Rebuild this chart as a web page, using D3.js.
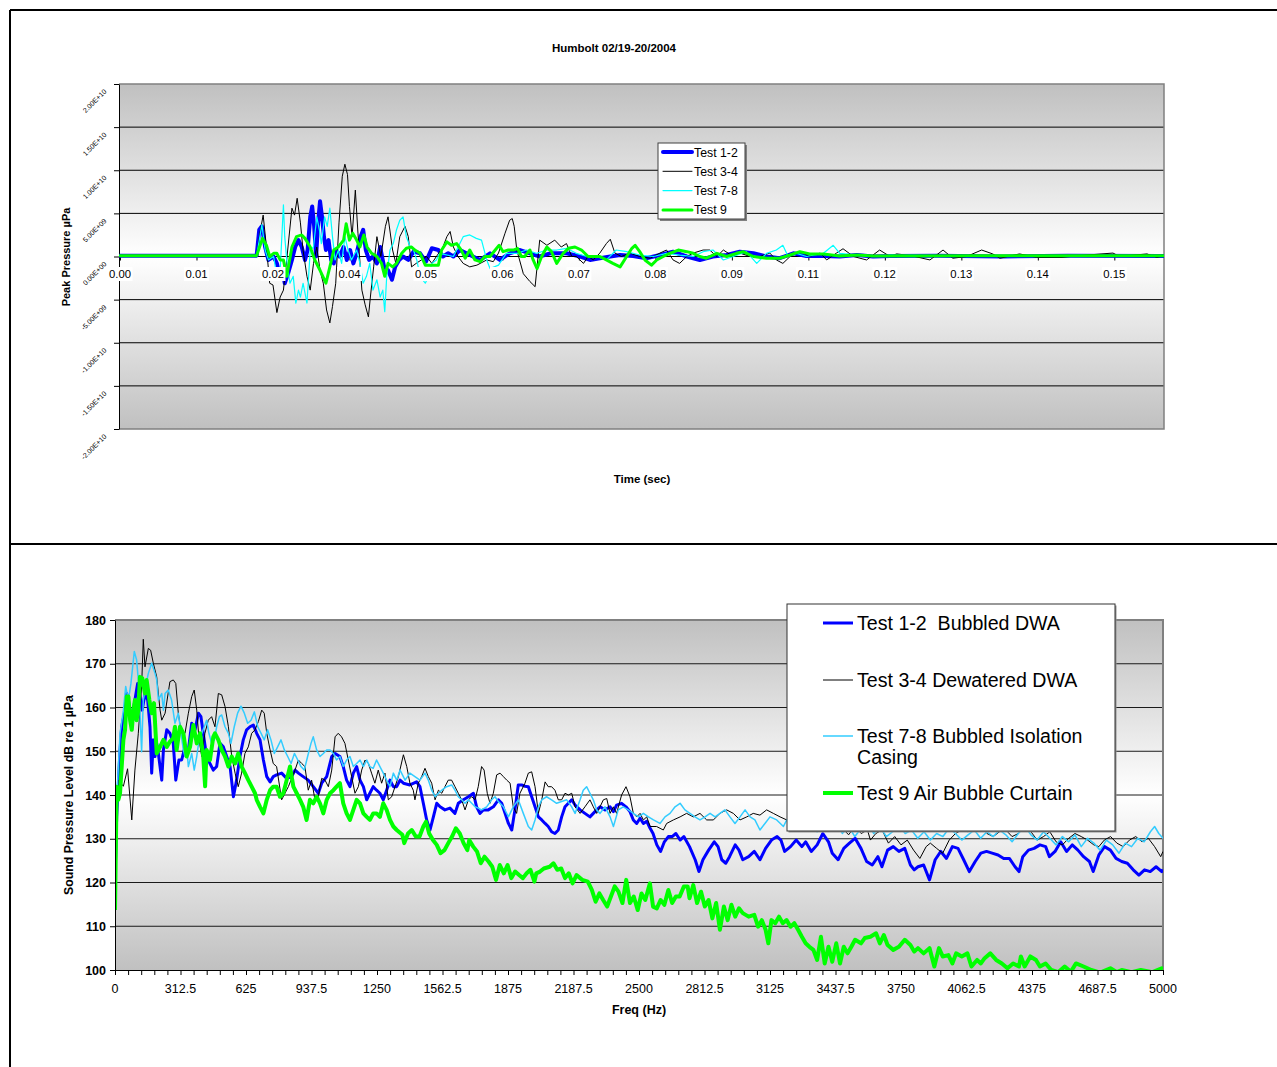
<!DOCTYPE html>
<html><head><meta charset="utf-8">
<script src="https://cdn.jsdelivr.net/npm/d3@7"></script>
<style>
html,body{margin:0;padding:0;background:#fff;}
svg{display:block;font-family:"Liberation Sans",Arial,sans-serif;}
</style></head><body>
<svg id="c" width="1277" height="1067"></svg>
<script>
// ---------------- TOP CHART DATA (time in ms, pressure in 1e9 µPa) ----------------
const topTitle = "Humbolt 02/19-20/2004";
const topSeriesNames = ["Test 1-2", "Test 3-4", "Test 7-8", "Test 9"];
const timeTickLabels = ["0.00","0.01","0.02","0.04","0.05","0.06","0.07","0.08","0.09","0.11","0.12","0.13","0.14","0.15"];
const timeTickStepMs = 11.7;
const timeEndMs = 159.7;
const pressureTicks = [-20,-15,-10,-5,0,5,10,15,20];
const pressureTickLabels = ["-2.00E+10","-1.50E+10","-1.00E+10","-5.00E+09","0.00E+00","5.00E+09","1.00E+10","1.50E+10","2.00E+10"];

const t12 = [[0,0.1],[20.9,0.1],[21.3,3.1],[21.7,3.5],[22.2,1.1],[22.7,-0.4],[23.5,0],[24.0,-0.8],[24.5,-2.3],[24.9,-1.6],[25.2,-3.1],[25.7,-2.0],[26.3,-0.4],[26.8,1.1],[27.3,1.9],[27.8,1.1],[28.3,-0.4],[28.7,0.75],[29.1,4.6],[29.4,5.8],[29.7,3.5],[30.0,0],[30.3,3.9],[30.6,6.4],[30.9,4.6],[31.2,2.3],[31.5,0.75],[31.9,1.9],[32.3,-0.4],[32.7,-0.8],[33.1,0.75],[33.6,0],[34.2,1.1],[34.7,-0.4],[35.2,0.75],[35.7,-0.8],[36.2,0.37],[36.8,2.3],[37.2,3.1],[37.6,0.75],[38.1,-0.4],[38.7,0],[39.3,-0.8],[39.8,1.1],[40.4,-1.2],[41.0,-1.6],[41.6,-2.7],[42.1,-1.2],[42.7,-0.4],[43.3,0],[44.1,-0.4],[44.9,0.56],[45.9,0.37],[46.8,-0.6],[47.7,0.95],[48.7,0.75],[49.4,0],[50.2,0.37],[51.0,0],[52.0,0.75],[53.0,0.37],[54.0,0],[55.1,-0.4],[56.6,0.37],[58.1,-0.4],[59.6,0.37],[61.2,0.75],[62.7,0.37],[64.2,0],[65.8,0.37],[68.3,0.37],[70.4,0],[71.9,-0.4],[73.4,-0.2],[75.0,0],[76.5,0.17],[78.5,0.06],[80.5,-0.2],[82.6,0.17],[84.6,0.56],[86.7,0],[88.7,-0.4],[90.7,0],[92.8,0.17],[94.8,0.56],[96.9,0.37],[98.9,0],[100.9,-0.2],[103.0,0.37],[105.0,0.06],[107.6,0.06],[110.1,0],[112.7,0.17],[115.2,0],[117.8,0.06],[125,0.1],[135,0],[145,0.1],[159.7,0.05]];

const t34 = [[0,0.1],[20.9,0.1],[21.4,2.7],[21.9,4.8],[22.4,1.1],[22.9,-3.1],[23.4,-3.3],[24.0,-6.5],[24.5,-4.7],[25.0,-3.9],[25.5,-0.4],[26.3,5.6],[26.7,4.8],[27.1,6.75],[27.6,3.9],[28.0,0.75],[28.6,-2.3],[29.1,-3.9],[29.6,-0.8],[30.1,1.1],[30.6,-1.6],[31.1,-3.1],[31.6,-6.2],[32.1,-7.7],[32.5,-5.8],[33.0,-3.1],[33.5,3.9],[34.0,9.3],[34.4,10.7],[34.8,9.5],[35.1,5.8],[35.5,2.3],[36.0,7.7],[36.4,2.7],[37.0,-3.9],[37.5,-5.6],[38.0,-7.0],[38.3,-4.7],[38.8,-1.2],[39.3,2.3],[39.9,0],[40.6,3.5],[41.0,4.6],[41.7,0.75],[42.2,-0.8],[42.8,2.3],[43.6,3.5],[44.1,2.3],[44.6,-1.2],[45.3,-0.8],[46.1,-0.4],[46.9,0],[47.7,-0.8],[48.4,0],[49.4,1.1],[50.0,2.3],[50.5,2.9],[51.0,1.1],[51.7,0],[52.5,-0.8],[53.5,-1.2],[54.6,-1.0],[56.1,-0.4],[57.1,-0.6],[57.9,0.4],[58.9,2.7],[59.6,4.2],[60.0,4.4],[60.3,3.5],[60.7,0.75],[61.7,-2.0],[62.7,-2.9],[63.5,-3.5],[64.2,1.9],[65.3,1.3],[66.5,1.9],[67.5,1.1],[68.3,1.5],[69.1,0],[69.8,0],[70.9,-0.8],[71.6,0],[72.4,-0.4],[73.4,0.4],[74.4,1.5],[75.0,2.0],[75.7,0.4],[76.7,0],[78.0,0.4],[79.5,0],[81.1,-0.2],[82.6,0.4],[83.6,0.75],[84.6,-0.4],[85.6,-0.8],[86.7,0],[87.7,0.4],[89.2,0.75],[90.2,0.75],[91.3,0],[92.3,0.75],[93.8,0],[94.8,0.4],[96.4,0],[97.9,0],[99.4,0.4],[100.4,-0.4],[101.4,-0.8],[102.5,0],[104.0,0.6],[105.5,0],[107.1,0.4],[108.1,-0.4],[109.6,0.4],[110.6,0.9],[112.2,0],[114.2,-0.4],[116.2,0.75],[117.8,0],[118.8,0.3],[121.0,0.1],[123.9,-0.4],[125.9,0.75],[127.4,-0.2],[129.5,0],[131.8,0.75],[133.5,0.3],[134.6,-0.2],[137.6,0.3],[140.2,-0.1],[144.1,-0.1],[146.8,0.1],[151.9,0.4],[152.9,0],[157.1,0.3],[158.6,-0.1],[159.7,0.1]];

const t78 = [[0,0.1],[20.9,0.1],[21.7,3.7],[22.2,0.75],[22.7,-0.4],[23.5,0],[24.0,-2.3],[24.5,-1.6],[25.0,6.0],[25.2,2.3],[25.5,-0.4],[26.0,-3.1],[26.5,-2.3],[26.9,-5.4],[27.3,-3.9],[27.6,-4.7],[28.0,-3.1],[28.6,-5.4],[29.1,0.75],[29.6,1.1],[30.1,4.6],[30.5,3.1],[30.8,1.5],[31.3,4.6],[31.7,3.5],[32.1,5.6],[32.5,2.3],[32.9,-0.4],[33.4,0.75],[33.9,-0.8],[34.4,2.3],[34.9,0.75],[35.4,-0.4],[36.2,0.75],[36.7,-0.8],[37.2,-3.1],[37.7,-2.3],[38.2,-0.8],[38.7,-3.9],[39.3,-2.7],[39.8,-4.7],[40.2,-3.9],[40.5,-6.4],[40.8,-2.3],[41.3,0.75],[41.8,1.5],[42.3,3.1],[42.8,4.2],[43.3,4.6],[43.8,2.3],[44.4,1.1],[44.9,0.75],[45.4,-0.4],[45.9,-2.3],[46.7,-3.1],[47.2,-2.3],[47.7,-0.8],[48.4,-0.4],[48.9,0.37],[51.0,0],[52.5,2.3],[53.5,2.5],[54.5,2.1],[55.3,1.9],[56.1,-0.4],[56.6,-1.4],[57.9,-1.0],[59.1,0.37],[60.7,0.37],[62.2,0.75],[63.7,0.37],[65.3,0.75],[66.8,0.75],[68.3,0.95],[69.8,0.37],[71.4,0],[72.9,0],[74.4,-0.4],[75.9,0.75],[77.5,0.56],[79.5,0.17],[81.6,0],[83.6,0.37],[85.6,0.17],[87.7,0],[89.2,0.56],[90.7,0.75],[92.3,-0.4],[93.8,0],[95.8,0.56],[97.4,-0.8],[98.9,0.37],[100.4,0.75],[101.4,1.3],[102.2,0],[103.5,0.37],[105.0,0],[107.6,0.37],[109.1,1.3],[110.1,0.37],[112.7,0.17],[115.2,0],[117.8,0.17],[125,0.1],[140,0.1],[159.7,0.1]];

const t9 = [[0,0.1],[20.9,0.1],[21.8,2.1],[22.4,1.3],[22.9,0],[23.5,0.37],[24.0,0.37],[24.5,-0.4],[25.0,-0.4],[25.5,-2.3],[26.3,1.1],[27.0,2.3],[27.8,2.5],[28.3,2.1],[29.1,1.1],[29.8,-0.4],[30.6,-1.6],[31.5,-3.1],[32.1,-1.2],[32.7,0.75],[33.4,1.1],[34.2,1.9],[34.6,3.8],[35.1,1.9],[35.6,2.7],[36.2,1.9],[36.7,1.1],[37.3,2.5],[37.8,1.1],[38.5,0.37],[39.3,0],[40.0,-0.8],[40.5,-2.3],[41.0,-0.8],[41.7,-1.2],[42.3,-0.8],[43.1,0.37],[43.8,0.95],[44.6,1.1],[45.1,0.75],[45.9,0.37],[46.7,-1.0],[47.4,-1.0],[48.7,-1.0],[49.2,0.75],[50.0,1.7],[50.7,1.3],[51.5,1.5],[52.2,0.75],[52.8,-0.2],[53.5,0.75],[54.3,-0.4],[55.1,-0.6],[55.8,0],[56.6,0],[57.4,0.75],[58.0,1.3],[58.6,0.56],[59.4,0.75],[60.2,0.75],[60.8,0.95],[61.4,0],[61.9,0],[62.7,0.75],[63.2,-0.4],[63.8,-1.4],[64.5,0],[65.3,1.1],[66.0,0.56],[66.8,-0.8],[67.8,0.37],[68.6,0.95],[69.6,1.1],[70.6,0.75],[71.6,0],[73.4,0],[74.4,-0.4],[75.4,-0.8],[76.5,-1.2],[77.5,0],[78.3,0.95],[78.8,1.3],[79.5,0.56],[80.3,-0.4],[81.3,-1.0],[82.1,-0.4],[83.1,0],[84.1,0.37],[85.4,0.75],[86.7,0.56],[87.7,0.37],[88.7,0],[89.7,-0.2],[91.3,0.37],[92.8,0],[94.3,0.37],[95.3,0.56],[96.9,0],[98.9,-0.2],[100.9,-0.2],[102.5,0.17],[104.0,0.56],[105.5,0.3],[107.6,0.3],[110.1,0.06],[112.7,0.17],[115.2,0.06],[130,0.1],[145,0.1],[159.7,0.1]];

// ---------------- BOTTOM CHART DATA (Hz, dB re 1 µPa) ----------------
const bottomSeriesNames = [["Test 1-2  Bubbled DWA"],["Test 3-4 Dewatered DWA"],["Test 7-8 Bubbled Isolation","Casing"],["Test 9 Air Bubble Curtain"]];
const freqTickLabels = ["0","312.5","625","937.5","1250","1562.5","1875","2187.5","2500","2812.5","3125","3437.5","3750","4062.5","4375","4687.5","5000"];
const freqMinorStep = 62.5;
const levelTicks = [100,110,120,130,140,150,160,170,180];

const f12 = [[0,121],[8,135],[24,150.3],[32,155.6],[48,159.4],[56,163.2],[64,161.7],[72,159.4],[83,157.9],[95,161.7],[108,165.5],[119,162.5],[130,159.4],[143,163.2],[156,161.7],[167,155.6],[175,145.0],[183,152.6],[191,148.8],[199,151.8],[207,149.5],[223,143.4],[231,150.3],[247,154.9],[262,154.1],[278,151.8],[290,143.4],[305,148.0],[318,148.0],[334,151.0],[350,150.3],[366,156.4],[382,154.9],[398,158.7],[410,157.9],[421,154.1],[437,148.8],[453,147.2],[469,145.7],[485,146.5],[501,151.8],[517,151.0],[533,148.8],[549,146.5],[565,139.6],[580,143.4],[596,148.8],[612,152.6],[628,154.9],[644,155.6],[660,156.0],[676,154.1],[692,152.6],[708,148.0],[724,144.2],[740,143.0],[755,144.2],[771,144.6],[795,145.0],[819,143.8],[843,144.2],[859,145.7],[875,145.0],[898,144.2],[922,143.4],[946,141.9],[970,140.4],[986,142.7],[1010,144.2],[1034,148.8],[1050,149.5],[1073,148.8],[1089,146.5],[1105,143.4],[1121,141.9],[1137,145.0],[1153,146.5],[1169,143.4],[1185,141.9],[1201,138.9],[1216,140.4],[1232,141.9],[1248,141.1],[1264,140.4],[1280,138.9],[1296,141.1],[1312,143.4],[1328,141.9],[1344,141.9],[1360,143.4],[1376,142.7],[1407,142.3],[1439,143.0],[1455,141.9],[1471,138.1],[1487,134.3],[1503,132.0],[1519,135.0],[1535,138.1],[1551,137.3],[1574,136.6],[1598,137.0],[1622,135.8],[1638,138.1],[1662,138.9],[1686,139.6],[1710,140.4],[1725,137.3],[1741,135.8],[1757,136.6],[1781,136.6],[1805,137.3],[1829,138.9],[1845,138.1],[1861,135.8],[1877,133.5],[1893,132.0],[1908,136.6],[1924,142.3],[1940,142.3],[1956,142.0],[1972,141.9],[1988,139.6],[2004,137.3],[2020,135.0],[2036,134.3],[2052,133.5],[2067,132.8],[2083,131.6],[2099,131.2],[2115,132.0],[2131,135.0],[2147,137.3],[2163,138.1],[2179,138.9],[2195,137.7],[2219,136.6],[2242,135.8],[2266,135.0],[2290,136.2],[2314,137.3],[2338,136.6],[2362,137.3],[2378,136.2],[2393,137.7],[2417,138.1],[2438,137.3],[2457,136.2],[2473,134.3],[2489,133.5],[2505,134.7],[2521,133.5],[2537,134.0],[2553,132.4],[2567,131.2],[2585,128.6],[2603,127.1],[2621,129.3],[2640,130.5],[2658,130.5],[2676,131.2],[2696,129.7],[2714,130.5],[2741,128.2],[2768,125.2],[2786,122.5],[2805,125.2],[2832,127.4],[2859,129.3],[2877,128.2],[2895,125.2],[2914,124.4],[2932,125.9],[2959,128.6],[2977,127.4],[2995,125.2],[3023,125.9],[3050,127.1],[3077,125.2],[3104,127.8],[3132,129.7],[3159,130.5],[3177,129.7],[3195,127.1],[3223,128.2],[3250,129.7],[3277,128.2],[3295,129.3],[3322,127.1],[3350,128.6],[3377,131.2],[3404,129.3],[3422,126.7],[3450,125.2],[3477,127.8],[3504,129.0],[3531,130.1],[3559,127.8],[3586,124.8],[3613,124.0],[3640,125.9],[3659,123.6],[3686,127.4],[3713,128.2],[3740,127.1],[3768,127.8],[3795,124.0],[3813,122.9],[3831,123.6],[3858,124.0],[3886,120.6],[3913,125.2],[3940,127.1],[3967,125.5],[3995,128.2],[4022,127.8],[4049,125.2],[4076,122.5],[4104,124.8],[4131,126.7],[4158,127.1],[4185,126.7],[4213,126.3],[4240,125.5],[4267,125.5],[4294,123.6],[4313,122.5],[4331,125.9],[4358,127.4],[4385,127.8],[4413,128.6],[4440,128.2],[4458,125.9],[4485,127.1],[4512,129.3],[4540,127.1],[4567,128.6],[4594,127.4],[4621,125.9],[4649,124.8],[4667,122.5],[4694,126.3],[4721,128.2],[4749,127.4],[4776,125.5],[4803,124.8],[4830,124.4],[4858,122.9],[4885,121.7],[4912,122.9],[4939,122.5],[4967,123.6],[4994,122.5],[5000,123.0]];

const f34 = [[0,133],[16,143.4],[40,142],[60,146],[80,134.3],[95,145.7],[111,154],[127,164.8],[135,175.6],[143,169.3],[159,173.5],[170,173.1],[183,170.1],[199,167],[215,159.4],[223,157.1],[239,158.7],[262,165.9],[278,166.3],[290,165.5],[302,158.7],[315,154.5],[334,154.1],[350,158.7],[366,162.5],[378,164],[390,159.4],[401,152.6],[414,148.8],[429,154.1],[445,157.1],[461,157.9],[477,155.6],[493,163.2],[509,162.9],[525,160.2],[541,155.6],[557,148.8],[573,145],[588,141.9],[604,145],[620,149.5],[636,151],[652,154.1],[668,154.9],[684,156.8],[700,159.4],[712,158.7],[724,154.1],[740,150.3],[755,147.2],[771,146.5],[795,138.9],[827,141.9],[859,145.7],[875,148],[891,147.2],[906,146.5],[922,141.1],[938,143.4],[954,138.9],[970,139.6],[986,143.8],[1002,143.4],[1018,141.9],[1034,145.7],[1050,153.3],[1065,154.1],[1081,153.3],[1097,151.8],[1113,148],[1129,144.2],[1145,140.4],[1161,141.9],[1177,145.7],[1193,148],[1209,147.2],[1224,145],[1240,142.7],[1256,145.7],[1272,142.7],[1288,145],[1304,138.9],[1320,139.6],[1336,141.9],[1352,144.2],[1376,149.2],[1392,146.5],[1407,142.7],[1423,141.1],[1431,138.9],[1447,142.7],[1463,144.2],[1479,146.1],[1495,144.2],[1511,142.7],[1527,138.9],[1543,141.1],[1559,140.4],[1574,141.9],[1590,143.4],[1606,143.4],[1622,141.9],[1638,140.4],[1654,138.9],[1670,136.6],[1686,138.9],[1702,139.6],[1718,138.9],[1733,141.9],[1749,146.5],[1761,145.7],[1776,140.4],[1789,138.1],[1805,140.4],[1821,144.6],[1837,145.0],[1853,144.2],[1869,143.4],[1885,142.7],[1900,137.3],[1916,135.8],[1932,140.4],[1956,142.7],[1972,145.0],[1988,145.3],[2004,141.9],[2020,135.8],[2036,138.9],[2052,143.0],[2067,141.9],[2083,141.9],[2099,141.1],[2115,138.9],[2131,138.9],[2147,140.4],[2163,140.0],[2179,140.4],[2195,137.3],[2219,135.8],[2242,137.3],[2266,138.9],[2282,137.3],[2298,135.8],[2314,137.3],[2330,138.9],[2346,139.2],[2362,135.8],[2378,137.3],[2393,135.8],[2417,140.0],[2438,141.9],[2457,139.6],[2473,135.8],[2489,135.0],[2505,135.8],[2521,134.3],[2537,135.0],[2553,132.8],[2584,132.8],[2616,132.0],[2632,133.5],[2664,134.3],[2696,135.0],[2727,135.8],[2759,135.0],[2791,135.8],[2823,134.3],[2855,134.3],[2886,135.8],[2918,136.6],[2950,135.8],[2982,134.3],[3014,135.0],[3045,135.8],[3077,135.4],[3109,136.6],[3141,135.8],[3173,135.0],[3205,134.3],[3230,133.5],[3260,134.3],[3290,132.8],[3320,134.0],[3350,132.0],[3380,133.1],[3410,131.6],[3440,133.5],[3470,132.4],[3500,130.9],[3530,132.8],[3560,131.2],[3590,132.0],[3604,129.7],[3630,131.2],[3660,132.0],[3690,129.0],[3720,130.5],[3750,128.6],[3780,129.7],[3810,127.4],[3840,125.5],[3870,128.2],[3890,129.0],[3920,127.8],[3949,126.7],[3980,129.7],[4010,131.2],[4040,132.0],[4070,131.6],[4100,132.4],[4130,133.1],[4160,131.2],[4190,130.5],[4220,131.6],[4250,132.0],[4280,130.5],[4310,131.2],[4340,132.8],[4370,131.6],[4400,129.7],[4430,130.5],[4460,131.6],[4490,129.3],[4520,128.6],[4550,130.1],[4580,131.2],[4610,130.5],[4640,129.7],[4670,128.6],[4694,128.2],[4720,129.7],[4750,130.5],[4780,129.0],[4810,128.2],[4840,129.7],[4870,130.5],[4900,129.3],[4930,130.1],[4960,128.2],[4989,125.9],[5000,127.1]];

const f78 = [[0,124],[8,138.9],[24,154.1],[40,159.4],[51,164.8],[64,161.7],[76,165.5],[92,172.8],[103,170.9],[114,164.8],[127,149.9],[135,161.7],[146,164.8],[159,167.8],[175,170.1],[191,167.8],[199,166.3],[207,161.7],[215,162.5],[223,163.2],[231,159.4],[239,163.2],[254,164.0],[270,161.7],[286,156.4],[302,158.7],[315,154.1],[326,150.3],[334,148.8],[342,151.0],[350,146.5],[366,149.5],[378,145.7],[390,148.8],[401,152.6],[414,154.1],[426,155.6],[437,157.1],[448,154.1],[461,151.8],[474,152.6],[485,155.6],[498,157.9],[509,158.3],[525,155.6],[541,154.1],[553,151.8],[569,155.6],[585,158.7],[601,160.3],[617,158.7],[633,156.4],[649,157.1],[665,159.0],[681,155.6],[697,154.1],[712,152.6],[728,154.9],[744,152.6],[760,149.5],[776,151.0],[792,152.6],[808,150.3],[824,148.8],[840,147.2],[856,149.5],[872,148.0],[887,146.5],[903,145.7],[919,148.8],[935,151.8],[946,153.3],[962,150.3],[978,148.8],[994,149.5],[1010,150.3],[1026,150.3],[1042,149.5],[1057,148.0],[1073,148.8],[1089,146.5],[1105,148.0],[1121,148.8],[1137,146.5],[1153,147.2],[1169,148.0],[1185,146.5],[1201,148.0],[1216,146.5],[1232,146.1],[1248,148.0],[1264,146.5],[1280,145.0],[1296,143.4],[1312,141.9],[1328,145.0],[1344,143.4],[1360,145.7],[1384,143.4],[1407,145.0],[1431,144.2],[1455,143.4],[1479,145.0],[1495,143.4],[1511,141.1],[1527,139.6],[1543,140.4],[1559,141.1],[1582,141.9],[1606,142.3],[1622,141.1],[1638,139.6],[1654,138.9],[1670,138.1],[1686,138.9],[1702,138.1],[1718,137.3],[1733,137.0],[1749,136.6],[1773,137.3],[1797,138.9],[1813,139.6],[1829,138.5],[1853,137.3],[1877,135.0],[1900,137.3],[1924,138.9],[1948,135.8],[1972,132.8],[1988,132.0],[2004,134.3],[2020,137.3],[2036,138.9],[2059,139.6],[2083,138.9],[2107,138.1],[2131,138.5],[2155,138.9],[2179,137.3],[2195,135.8],[2219,138.9],[2234,141.1],[2250,141.9],[2266,140.4],[2282,138.9],[2298,136.6],[2314,135.8],[2338,137.3],[2362,135.0],[2378,132.8],[2401,136.6],[2425,137.3],[2449,136.6],[2473,135.8],[2497,135.0],[2521,135.8],[2545,135.0],[2569,134.3],[2600,133.5],[2624,135.0],[2648,135.8],[2672,137.3],[2696,138.1],[2719,136.6],[2743,135.8],[2767,135.0],[2791,134.3],[2815,135.0],[2839,135.8],[2863,135.0],[2886,135.8],[2910,136.6],[2934,135.0],[2958,133.5],[2982,135.0],[3006,136.6],[3030,135.0],[3053,134.3],[3077,132.0],[3101,133.5],[3125,135.0],[3157,134.3],[3189,132.8],[3205,134.3],[3230,133.1],[3260,134.6],[3290,132.5],[3320,133.5],[3350,131.6],[3380,133.1],[3410,132.0],[3440,134.0],[3470,131.2],[3500,132.8],[3530,130.5],[3560,132.4],[3590,133.5],[3620,131.2],[3650,132.8],[3680,130.5],[3710,131.6],[3740,133.1],[3770,131.2],[3800,132.0],[3830,130.1],[3860,131.6],[3890,129.7],[3920,131.2],[3950,130.5],[3980,132.4],[4010,131.2],[4040,129.7],[4070,130.9],[4100,132.0],[4130,130.1],[4160,131.6],[4190,130.5],[4220,132.0],[4250,130.9],[4280,129.3],[4310,131.2],[4340,132.8],[4370,130.9],[4400,129.7],[4430,131.6],[4460,130.1],[4490,128.6],[4520,130.5],[4550,129.3],[4580,130.9],[4610,128.2],[4640,130.1],[4670,129.0],[4700,127.4],[4730,129.7],[4760,128.6],[4790,126.7],[4820,129.0],[4850,128.2],[4880,130.1],[4910,129.3],[4940,131.6],[4960,132.8],[4980,131.2],[5000,130.1]];

const f9 = [[0,113.7],[8,141.9],[16,138.9],[24,140.4],[32,146.5],[40,152.6],[48,154.9],[56,162.5],[64,162.5],[72,157.1],[80,154.9],[88,159.4],[95,161.7],[103,157.1],[111,159.4],[119,167.0],[130,166.7],[143,163.2],[151,166.3],[164,161.7],[175,158.7],[186,161.0],[199,149.5],[215,151.0],[231,152.6],[247,151.0],[262,152.2],[278,153.0],[286,155.6],[294,150.3],[310,155.6],[326,154.1],[342,148.8],[358,151.0],[374,156.0],[390,151.8],[406,154.1],[421,148.8],[430,142.0],[437,150.3],[453,148.0],[469,153.3],[477,154.1],[493,152.6],[509,150.3],[525,148.8],[541,146.5],[557,148.8],[573,147.2],[588,149.5],[604,146.5],[620,145.0],[636,143.4],[652,141.9],[668,140.4],[676,138.9],[692,137.3],[708,135.8],[724,138.9],[740,141.1],[755,141.9],[771,141.9],[787,139.6],[803,140.4],[819,143.4],[835,146.5],[851,141.9],[867,140.4],[883,138.9],[898,137.3],[914,134.3],[930,138.9],[946,138.1],[962,139.6],[978,138.1],[994,135.8],[1010,138.9],[1026,140.4],[1042,141.1],[1057,141.9],[1073,142.7],[1089,138.1],[1105,135.8],[1121,134.3],[1137,136.6],[1153,138.9],[1169,138.1],[1185,135.8],[1201,135.0],[1216,134.3],[1232,135.8],[1248,135.8],[1264,135.0],[1280,138.1],[1296,136.6],[1312,134.3],[1328,132.8],[1344,132.0],[1371,130.9],[1380,129.0],[1398,131.2],[1416,132.0],[1435,130.5],[1453,130.5],[1471,132.8],[1484,133.9],[1499,131.2],[1517,129.7],[1535,128.6],[1553,126.7],[1572,127.4],[1590,129.0],[1608,130.5],[1626,132.4],[1645,131.2],[1663,129.0],[1681,127.4],[1690,129.7],[1709,128.2],[1727,127.1],[1745,124.4],[1763,125.9],[1782,124.8],[1800,123.6],[1818,120.6],[1836,124.0],[1855,122.1],[1873,124.0],[1891,121.0],[1909,122.5],[1928,121.7],[1946,121.0],[1964,122.1],[1982,122.9],[2001,120.2],[2010,122.1],[2028,122.5],[2046,123.2],[2074,123.6],[2092,124.4],[2110,122.9],[2129,123.2],[2147,121.0],[2165,122.1],[2183,119.8],[2202,121.7],[2229,120.6],[2256,120.2],[2275,118.3],[2293,115.6],[2311,117.5],[2329,116.0],[2348,114.5],[2366,116.8],[2384,119.1],[2402,117.9],[2421,115.3],[2439,120.6],[2457,115.3],[2475,116.8],[2494,113.7],[2512,117.5],[2530,116.0],[2552,119.8],[2567,114.5],[2585,114.1],[2603,116.0],[2621,114.9],[2640,118.3],[2658,115.3],[2676,116.8],[2694,116.8],[2714,119.1],[2732,119.1],[2741,116.4],[2759,119.4],[2777,115.3],[2796,117.9],[2814,114.5],[2832,116.0],[2850,111.8],[2868,115.3],[2886,109.2],[2905,114.5],[2923,111.4],[2941,114.9],[2959,112.2],[2977,114.1],[2995,113.0],[3023,112.2],[3050,112.6],[3068,109.9],[3086,111.4],[3104,109.2],[3117,106.1],[3132,111.4],[3150,110.7],[3168,112.2],[3186,110.7],[3204,111.4],[3223,109.9],[3241,110.7],[3259,109.2],[3277,107.6],[3295,106.1],[3313,105.3],[3332,104.6],[3350,102.3],[3368,107.6],[3386,101.5],[3404,105.3],[3422,101.9],[3441,106.1],[3459,101.5],[3477,105.3],[3495,103.8],[3513,105.3],[3531,106.9],[3559,106.1],[3577,107.3],[3604,107.6],[3631,108.4],[3649,106.1],[3668,108.0],[3686,105.7],[3713,104.6],[3740,105.3],[3768,106.9],[3795,105.7],[3813,104.2],[3831,105.0],[3858,103.8],[3886,105.0],[3909,100.8],[3931,105.0],[3949,103.1],[3976,103.4],[3995,101.5],[4013,103.8],[4040,103.1],[4067,103.8],[4086,100.8],[4113,102.3],[4131,101.5],[4149,102.7],[4176,103.8],[4204,102.3],[4231,101.5],[4258,100.4],[4285,101.5],[4313,100.8],[4322,103.1],[4340,100.8],[4367,103.1],[4394,102.3],[4413,100.8],[4440,101.5],[4467,100.0],[4500,99.5],[4531,100.8],[4560,99.6],[4585,101.5],[4621,100.8],[4658,100.0],[4700,99.4],[4749,100.4],[4780,99.5],[4803,100.0],[4850,99.5],[4894,100.0],[4950,99.5],[4994,100.4],[5000,100.2]];

// ---------------- DRAWING ----------------
(function(){
const svg = d3.select("#c");
const defs = svg.append("defs");
function grad(id){
  const g = defs.append("linearGradient").attr("id", id).attr("x1",0).attr("y1",0).attr("x2",0).attr("y2",1);
  g.append("stop").attr("offset","0%").attr("stop-color","#c0c0c0");
  g.append("stop").attr("offset","50%").attr("stop-color","#ffffff");
  g.append("stop").attr("offset","100%").attr("stop-color","#c0c0c0");
}
grad("bgTop"); grad("bgBot");

const frame = svg.append("g").attr("stroke","#000").attr("stroke-width",2);
frame.append("line").attr("x1",10).attr("y1",10).attr("x2",1277).attr("y2",10);
frame.append("line").attr("x1",10).attr("y1",10).attr("x2",10).attr("y2",1067);
frame.append("line").attr("x1",10).attr("y1",544).attr("x2",1277).attr("y2",544);

// ===== TOP CHART =====
const TP = {l:119, r:1164, t:84, b:429};
const xT = d3.scaleLinear().domain([0, timeEndMs]).range([120, 1164]);
const yT = d3.scaleLinear().domain([-20, 20]).range([TP.b, TP.t]);
const gTop = svg.append("g");
gTop.append("rect").attr("x",TP.l).attr("y",TP.t).attr("width",TP.r-TP.l).attr("height",TP.b-TP.t).attr("fill","url(#bgTop)");
gTop.append("g").selectAll("line").data(pressureTicks.filter(v=>v!==0 && Math.abs(v)!==20)).join("line")
  .attr("x1",TP.l).attr("x2",TP.r).attr("y1",d=>yT(d)).attr("y2",d=>yT(d)).attr("stroke","#000").attr("stroke-width",1);
gTop.append("path").attr("d",`M${TP.l},${TP.t}H${TP.r}V${TP.b}H${TP.l}`).attr("fill","none").attr("stroke","#808080").attr("stroke-width",1.5);
const axL = gTop.append("g").attr("transform",`translate(${TP.l},0)`)
  .call(d3.axisLeft(yT).tickValues(pressureTicks).tickSize(5).tickSizeOuter(0).tickFormat(""));
axL.selectAll("path,line").attr("stroke","#000");
gTop.append("g").selectAll("text").data(pressureTicks).join("text")
  .attr("transform",(d)=>`translate(107,${yT(d)+8}) rotate(-45)`)
  .attr("text-anchor","end").attr("font-size",7).attr("fill","#000")
  .text((d,i)=>pressureTickLabels[i]);
defs.append("clipPath").attr("id","clipTop").append("rect").attr("x",TP.l).attr("y",TP.t).attr("width",TP.r-TP.l).attr("height",TP.b-TP.t);
const lineT = d3.line().x(d=>xT(d[0])).y(d=>yT(d[1]));
const topSeries = [
  {data:t12, color:"#0000ff", w:4},
  {data:t34, color:"#000000", w:1},
  {data:t78, color:"#00ffff", w:1.2},
  {data:t9,  color:"#00ff00", w:3}
];
const timeTicks = timeTickLabels.map((s,i)=>i*timeTickStepMs);
const axX = gTop.append("g").attr("transform",`translate(0,${yT(0)})`)
  .call(d3.axisBottom(xT).tickValues(timeTicks).tickSize(4).tickSizeOuter(0).tickFormat(""));
axX.selectAll("path,line").attr("stroke","#000");
axX.select("path").attr("d",`M${TP.l},0H${TP.r}`);
const lt = gTop.append("g").attr("clip-path","url(#clipTop)");
topSeries.forEach(s=>{
  lt.append("path").datum(s.data).attr("d",lineT).attr("fill","none")
    .attr("stroke",s.color).attr("stroke-width",s.w).attr("stroke-linejoin","round").attr("stroke-linecap","round");
});
const xl = gTop.append("g").selectAll("g").data(timeTicks).join("g")
  .attr("transform",d=>`translate(${xT(d)},${yT(0)+21.5})`);
xl.append("rect").attr("x",-12.5).attr("y",-11).attr("width",25).attr("height",14).attr("fill","#fff");
xl.append("text").attr("text-anchor","middle").attr("font-size",11.3).attr("fill","#000").text((d,i)=>timeTickLabels[i]);

gTop.append("text").attr("x",614).attr("y",52).attr("text-anchor","middle").attr("font-size",11.5).attr("font-weight","bold").text(topTitle);
gTop.append("text").attr("transform","translate(70,257) rotate(-90)").attr("text-anchor","middle").attr("font-size",11).attr("font-weight","bold").text("Peak Pressure µPa");
gTop.append("text").attr("x",642).attr("y",483).attr("text-anchor","middle").attr("font-size",11.5).attr("font-weight","bold").text("Time (sec)");

const lgT = gTop.append("g").attr("transform","translate(658,143)");
lgT.append("rect").attr("x",2).attr("y",2).attr("width",87).attr("height",76).attr("fill","#808080");
lgT.append("rect").attr("x",0).attr("y",0).attr("width",87).attr("height",76).attr("fill","#fff").attr("stroke","#404040").attr("stroke-width",1);
topSeries.forEach((s,i)=>{
  const yy = 9 + i*19.3;
  lgT.append("line").attr("x1",5).attr("x2",34).attr("y1",yy).attr("y2",yy).attr("stroke",s.color).attr("stroke-width",s.w).attr("stroke-linecap","round");
  lgT.append("text").attr("x",36).attr("y",yy+4.5).attr("font-size",12.3).attr("fill","#000").text(topSeriesNames[i]);
});

// ===== BOTTOM CHART =====
const BP = {l:115, r:1163, t:620, b:970};
const xB = d3.scaleLinear().domain([0,5000]).range([BP.l,BP.r]);
const yB = d3.scaleLinear().domain([100,180]).range([BP.b,BP.t]);
const gBot = svg.append("g");
gBot.append("rect").attr("x",BP.l).attr("y",BP.t).attr("width",BP.r-BP.l).attr("height",BP.b-BP.t).attr("fill","url(#bgBot)");
gBot.append("g").selectAll("line").data(levelTicks.filter(v=>v>100 && v<180)).join("line")
  .attr("x1",BP.l).attr("x2",BP.r).attr("y1",d=>yB(d)).attr("y2",d=>yB(d)).attr("stroke","#1a1a1a").attr("stroke-width",1);
gBot.append("path").attr("d",`M${BP.l},${BP.t}H${BP.r}V${BP.b}`).attr("fill","none").attr("stroke","#808080").attr("stroke-width",2);
defs.append("clipPath").attr("id","clipBot").append("rect").attr("x",BP.l).attr("y",BP.t).attr("width",BP.r-BP.l).attr("height",BP.b-BP.t+1);
const lineB = d3.line().x(d=>xB(d[0])).y(d=>yB(d[1]));
const botSeries = [
  {data:f12, color:"#0000ff", w:3},
  {data:f34, color:"#000000", w:1},
  {data:f78, color:"#33ccff", w:1.5},
  {data:f9,  color:"#00ff00", w:4}
];
const lb = gBot.append("g").attr("clip-path","url(#clipBot)");
botSeries.forEach(s=>{
  lb.append("path").datum(s.data).attr("d",lineB).attr("fill","none")
    .attr("stroke",s.color).attr("stroke-width",s.w).attr("stroke-linejoin","round");
});
const axBL = gBot.append("g").attr("transform",`translate(${BP.l},0)`)
  .call(d3.axisLeft(yB).tickValues(levelTicks).tickSize(5).tickSizeOuter(0).tickFormat(""));
axBL.selectAll("path,line").attr("stroke","#000");
gBot.append("g").selectAll("text").data(levelTicks).join("text")
  .attr("x",106).attr("y",d=>yB(d)+4.5).attr("text-anchor","end").attr("font-size",12.5).attr("font-weight","bold").text(d=>d);
const minorTicks = d3.range(0, 5000 + 1e-6, freqMinorStep);
const axBB = gBot.append("g").attr("transform",`translate(0,${BP.b})`)
  .call(d3.axisBottom(xB).tickValues(minorTicks).tickSize(5).tickSizeOuter(0).tickFormat(""));
axBB.selectAll("path,line").attr("stroke","#000");
gBot.append("g").selectAll("text").data(freqTickLabels).join("text")
  .attr("x",d=>xB(+d)).attr("y",993).attr("text-anchor","middle").attr("font-size",12.5).text(d=>d);
gBot.append("text").attr("x",639).attr("y",1014).attr("text-anchor","middle").attr("font-size",12.5).attr("font-weight","bold").text("Freq (Hz)");
gBot.append("text").attr("transform","translate(73,795) rotate(-90)").attr("text-anchor","middle").attr("font-size",12.3).attr("font-weight","bold").text("Sound Pressure Level dB re 1 µPa");

const lgB = gBot.append("g").attr("transform","translate(787,604)");
lgB.append("rect").attr("x",1.5).attr("y",1.5).attr("width",328).attr("height",227).attr("fill","#909090");
lgB.append("rect").attr("x",0).attr("y",0).attr("width",328).attr("height",227).attr("fill","#fff").attr("stroke","#333").attr("stroke-width",1);
const rowsY = [19, 76, 132, 189];
botSeries.forEach((s,i)=>{
  const yy = rowsY[i];
  lgB.append("line").attr("x1",36).attr("x2",66).attr("y1",yy).attr("y2",yy).attr("stroke",s.color).attr("stroke-width",s.w);
  const tx = lgB.append("text").attr("x",70).attr("y",yy+7).attr("font-size",19.6).attr("fill","#000").attr("xml:space","preserve").style("white-space","pre");
  bottomSeriesNames[i].forEach((ln,k)=>{
    tx.append("tspan").attr("x",70).attr("dy",k===0?0:21).text(ln);
  });
});
})();
</script>
</body></html>
